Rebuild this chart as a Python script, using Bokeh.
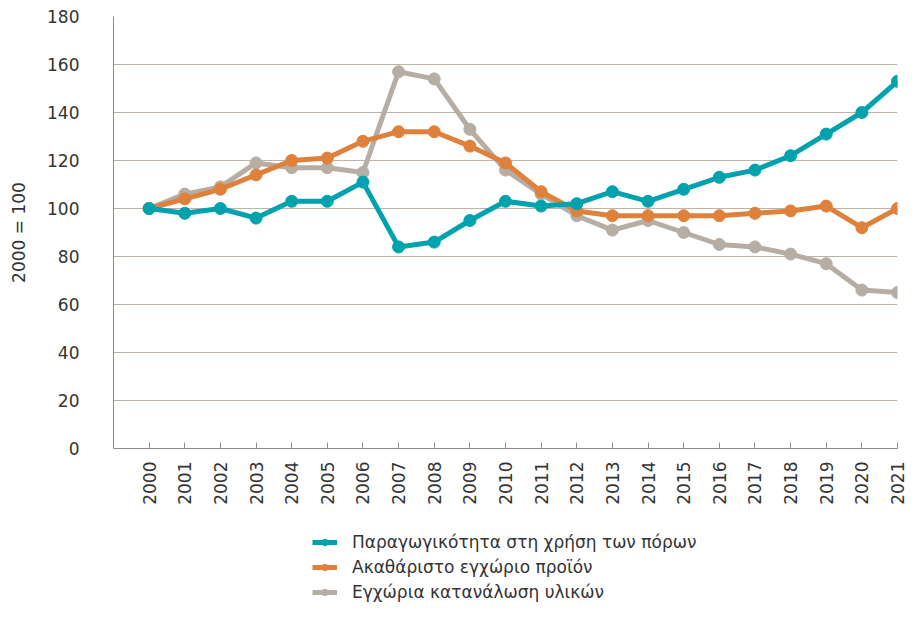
import math
from bokeh.plotting import figure
from bokeh.layouts import column
from bokeh.models import Range1d, FixedTicker, Legend, LegendItem
from bokeh.embed import file_html
from bokeh.resources import INLINE

years = list(range(2000, 2022))
productivity = [100, 98, 100, 96, 103, 103, 111, 84, 86, 95, 103, 101, 102, 107, 103, 108, 113, 116, 122, 131, 140, 153]
gdp = [100, 104, 108, 114, 120, 121, 128, 132, 132, 126, 119, 107, 99, 97, 97, 97, 97, 98, 99, 101, 92, 100]
dmc = [100, 106, 109, 119, 117, 117, 115, 157, 154, 133, 116, 106, 97, 91, 95, 90, 85, 84, 81, 77, 66, 65]
series_names = ["Παραγωγικότητα στη χρήση των πόρων", "Ακαθάριστο εγχώριο προϊόν", "Εγχώρια κατανάλωση υλικών"]
y_ticks = [0, 20, 40, 60, 80, 100, 120, 140, 160, 180]
y_label = "2000 = 100"

FONT = "DejaVu Sans"
TEXT = "#333333"
colors = {"prod": "#00A3AD", "gdp": "#E0813B", "dmc": "#B6AEA4"}
series = {"prod": productivity, "gdp": gdp, "dmc": dmc}

p = figure(width=907, height=532, output_backend="svg", toolbar_location=None,
           x_range=Range1d(1999, 2021), y_range=Range1d(0, 180),
           min_border_left=113, min_border_right=10, min_border_top=16, min_border_bottom=84)
p.outline_line_color = None
p.background_fill_color = "white"

# Axes
p.xaxis.ticker = FixedTicker(ticks=years)
p.xaxis.major_label_overrides = {y: str(y) for y in years}
p.xaxis.major_label_orientation = math.pi / 2
p.xaxis.major_tick_in = 6
p.xaxis.major_tick_out = 0
p.xaxis.minor_tick_line_color = None
p.xaxis.major_label_standoff = 13
p.xaxis.axis_line_color = "#8C8C8C"
p.xaxis.major_tick_line_color = "#8C8C8C"

p.yaxis.ticker = FixedTicker(ticks=y_ticks)
p.yaxis.major_tick_in = 0
p.yaxis.major_tick_out = 0
p.yaxis.minor_tick_line_color = None
p.yaxis.major_label_standoff = 34
p.yaxis.axis_line_color = "#8C8C8C"
p.yaxis.axis_label = y_label
p.yaxis.axis_label_standoff = 15
p.yaxis.axis_label_text_font_style = "normal"

for ax in (p.xaxis[0], p.yaxis[0]):
    ax.major_label_text_font = FONT
    ax.major_label_text_font_size = "17px"
    ax.major_label_text_color = TEXT
    ax.axis_label_text_font = FONT
    ax.axis_label_text_font_size = "17px"
    ax.axis_label_text_color = TEXT

p.xgrid.grid_line_color = None
p.ygrid.grid_line_color = "#BDB3A8"
p.ygrid.grid_line_width = 1
p.ygrid.ticker = FixedTicker(ticks=y_ticks)

# Series (gray at bottom, teal on top)
for key in ["dmc", "gdp", "prod"]:
    p.line(years, series[key], line_color=colors[key], line_width=5)
    p.scatter(years, series[key], size=12, fill_color=colors[key], line_color=colors[key])

# Legend panel below the chart (same series, out of its view range; only the legend shows)
lg = figure(width=907, height=70, output_backend="svg", toolbar_location=None,
            x_range=Range1d(0, 1), y_range=Range1d(0, 1),
            min_border_left=113, min_border_right=10, min_border_top=0, min_border_bottom=0)
lg.axis.visible = False
lg.grid.visible = False
lg.outline_line_color = None
items = []
for name, key in zip(series_names, ["prod", "gdp", "dmc"]):
    rl = lg.line(years, series[key], line_color=colors[key], line_width=5)
    rc = lg.scatter(years, series[key], size=10, fill_color=colors[key], line_color=colors[key])
    items.append(LegendItem(label=name, renderers=[rl, rc]))
legend = Legend(items=items, location=(199, 0))
legend.label_text_font = FONT
legend.label_text_font_size = "17px"
legend.label_text_color = TEXT
legend.glyph_width = 25
legend.glyph_height = 16
legend.label_height = 16
legend.spacing = 5
legend.padding = 0
legend.margin = 0
legend.label_standoff = 15
legend.border_line_color = None
legend.background_fill_alpha = 0
lg.add_layout(legend, "center")

layout = column(p, lg, spacing=0)
open("out.html", "w").write(file_html(layout, INLINE))
